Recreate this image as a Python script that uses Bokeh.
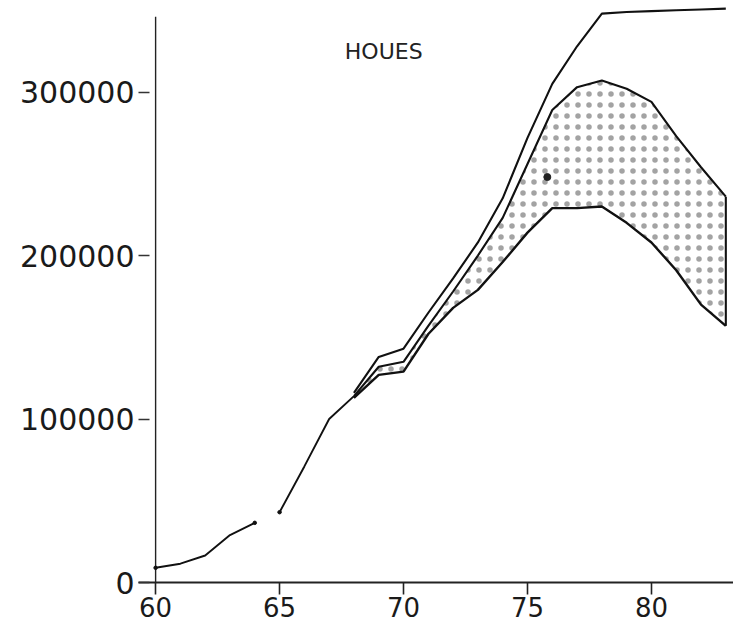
from bokeh.plotting import figure
from bokeh.models import FixedTicker, Label, Range1d
from bokeh.embed import file_html
from bokeh.resources import INLINE

# ---------------- data ----------------
years_early = [60, 61, 62, 63, 64]
housing_early = [9000, 11500, 16500, 29000, 36500]

years_mid = [65, 66, 67, 68]
housing_mid = [43000, 71000, 100000, 114000]

years_late = [68, 69, 70, 71, 72, 73, 74, 75, 76, 77, 78, 79, 80, 81, 82, 83]
upper_outer = [116000, 138000, 143000, 165000, 186000, 208000, 235000, 272000,
               305000, 328000, 348000, 349000, 349500, 350000, 350500, 351000]
upper_inner = [114000, 132000, 135000, 157000, 178000, 200000, 223000, 256000,
               289000, 303000, 307000, 302000, 294000, 273000, 254000, 236000]
lower = [113000, 127000, 129000, 152000, 168000, 179000, 196000, 214000,
         229000, 229000, 230000, 220000, 208000, 191000, 170000, 157000]

speck_x = [75.8]
speck_y = [248000]

x_ticks = [60, 65, 70, 75, 80]
y_ticks = [0, 100000, 200000, 300000]
y_tick_labels = ["0", "100000", "200000", "300000"]
y_axis_top = 346000
title_text = "HOUES"

# ---------------- figure ----------------
p = figure(width=733, height=636,
           x_range=Range1d(59.31, 83.31), y_range=Range1d(0, 356000),
           output_backend="svg", toolbar_location=None,
           min_border_left=138, min_border_right=0,
           min_border_top=0, min_border_bottom=54)
p.outline_line_color = None
p.grid.visible = False
p.background_fill_color = "white"

# shaded band between hump and lower curve
p.varea(x=years_late, y1=lower, y2=upper_inner,
        fill_color="white", fill_alpha=1.0,
        hatch_pattern="dot", hatch_color="#333333", hatch_alpha=0.45,
        hatch_scale=11, hatch_weight=1.0)

lc = "#111111"
# vertical axis line at the first year
p.segment(x0=[x_ticks[0]], y0=[y_ticks[0]], x1=[x_ticks[0]], y1=[y_axis_top],
          line_color="#222222", line_width=1.4)

p.line(years_early, housing_early, line_color=lc, line_width=1.9)
p.line(years_mid, housing_mid, line_color=lc, line_width=1.9)
p.line(years_late, upper_outer, line_color=lc, line_width=2.1)
p.line(years_late, upper_inner, line_color=lc, line_width=2.1)
p.line(years_late, lower, line_color=lc, line_width=2.4)
p.segment(x0=[years_late[-1]], y0=[lower[-1]], x1=[years_late[-1]], y1=[upper_inner[-1]],
          line_color=lc, line_width=2.1)

# small end dots
p.scatter([years_early[0], years_early[-1], years_mid[0]],
          [housing_early[0], housing_early[-1], housing_mid[0]],
          size=3.5, color=lc)
p.scatter(speck_x, speck_y, size=7, color="#222222")

# ---------------- axes ----------------
xa = p.xaxis[0]
xa.ticker = FixedTicker(ticks=x_ticks, minor_ticks=[])
xa.axis_line_width = 2.2
xa.axis_line_color = "#222222"
xa.major_tick_out = 12
xa.major_tick_in = 0
xa.major_tick_line_width = 1.6
xa.major_tick_line_color = "#222222"
xa.minor_tick_line_color = None
xa.major_label_text_font = "DejaVu Sans"
xa.major_label_text_font_size = "26px"
xa.major_label_text_color = "#1a1a1a"
xa.major_label_standoff = 2

ya = p.yaxis[0]
ya.ticker = FixedTicker(ticks=y_ticks, minor_ticks=[])
ya.major_label_overrides = {t: s for t, s in zip(y_ticks, y_tick_labels)}
ya.axis_line_color = None
ya.major_tick_out = 0
ya.major_tick_in = 11
ya.major_tick_line_width = 1.3
ya.major_tick_line_color = "#333333"
ya.minor_tick_line_color = None
ya.major_label_text_font = "DejaVu Sans"
ya.major_label_text_font_size = "30px"
ya.major_label_text_color = "#1a1a1a"
ya.major_label_standoff = 4

p.add_layout(Label(x=69.2, y=325000, text=title_text, text_font="DejaVu Sans",
                   text_font_size="22px", text_color="#222222",
                   text_align="center", text_baseline="middle"))

open("out.html", "w").write(file_html(p, INLINE))
